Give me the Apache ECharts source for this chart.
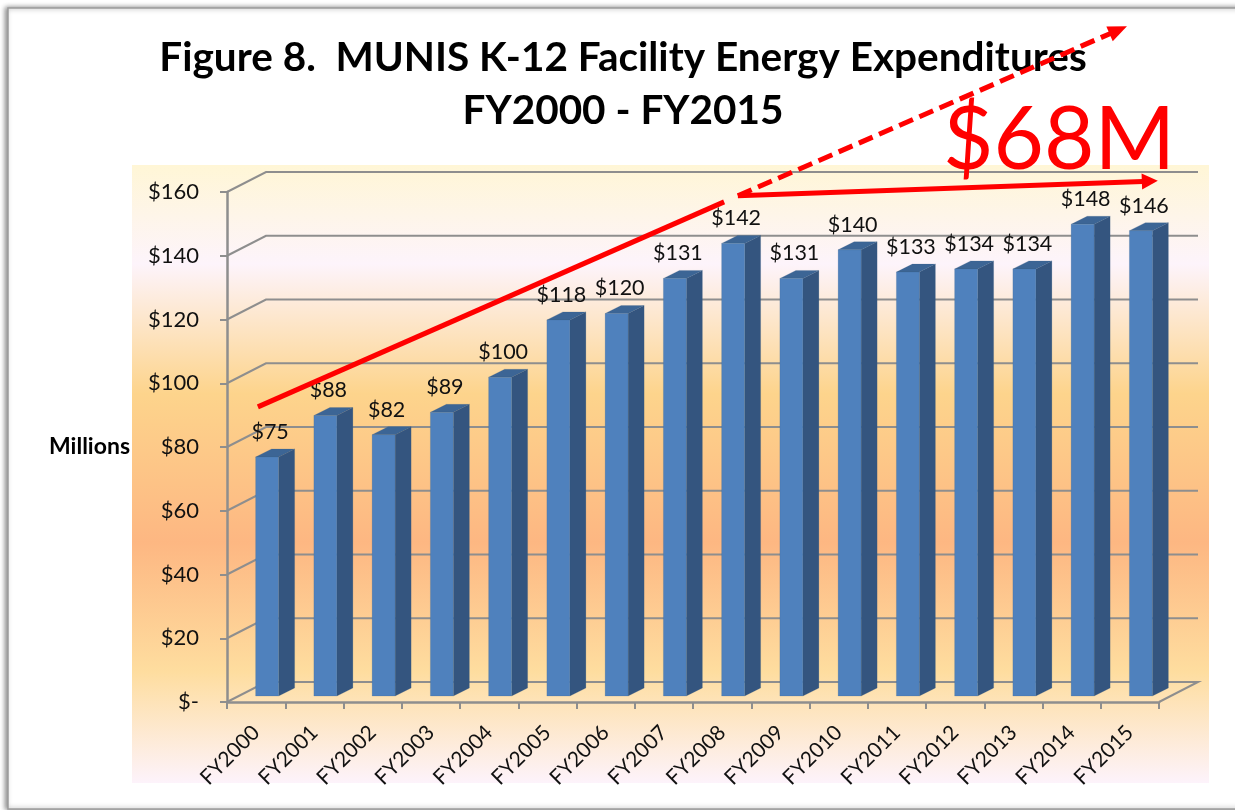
<!DOCTYPE html>
<html><head><meta charset="utf-8">
<style>html,body{margin:0;padding:0;background:#fff}#c{width:1235px;height:810px}</style>
<script src="https://cdn.jsdelivr.net/npm/echarts@6/dist/echarts.min.js"></script>
</head><body><div id="c"></div>
<script>
const categories = ['FY2000','FY2001','FY2002','FY2003','FY2004','FY2005','FY2006','FY2007','FY2008','FY2009','FY2010','FY2011','FY2012','FY2013','FY2014','FY2015'];
const expenditures = [75,88,82,89,100,118,120,131,142,131,140,133,134,134,148,146];
const yTicks = [0,20,40,60,80,100,120,140,160];
// Annotation arrows: [from position, from $M, to position, to $M, dashed]
const trendRise = [0.53,92.6,8.77,158.8,0];
const trendProjected = [8.77,158.8,15.45,212,1];
const trendActual = [8.77,158.8,15.98,163.5,0];
const calloutText = '$68M';
const titleText = 'Figure 8.  MUNIS K-12 Facility Energy Expenditures\nFY2000 - FY2015';
const yAxisName = 'Millions';

const FONT = 'Lato, "Open Sans", sans-serif';
const GRAY = '#8e8e8e';
const DX = 39, DY = -20;          // wall depth
const chart = echarts.init(document.getElementById('c'));

function renderWall(params, api) {
  const v = api.value(0);
  const a = api.coord([0, v]);
  const b = api.coord([16, v]);
  const style = {stroke: GRAY, lineWidth: 2, fill: null};
  return {type: 'polyline', shape: {points: [a, [a[0]+DX, a[1]+DY], [b[0]+DX, b[1]+DY], ...(v === 0 ? [b] : [])]}, style};
}
function renderBar(params, api) {
  const p = api.coord([api.value(0), api.value(1)]);
  const base = api.coord([api.value(0), 0]);
  const band = api.size([1, 0])[0];
  const w = band * 0.395, dx = 16, dy = -8, shift = -6;
  const x = p[0] - 0.5, top = p[1] + shift, bot = base[1] + shift;
  const edge = {stroke: 'rgba(60,90,130,0.35)', lineWidth: 0.5};
  return {type: 'group', children: [
    {type: 'polygon', shape: {points: [[x+w,top],[x+w+dx,top+dy],[x+w+dx,bot+dy],[x+w,bot]]}, style: {fill: '#34557f', ...edge}},
    {type: 'polygon', shape: {points: [[x,top],[x+dx,top+dy],[x+w+dx,top+dy],[x+w,top]]}, style: {fill: '#3c6595', ...edge}},
    {type: 'rect', shape: {x, y: top, width: w, height: bot-top}, style: {fill: '#4f81bd', ...edge}},
    {type: 'text', x: x + 14.5, y: top - 25, style: {text: '$' + api.value(1), font: '21.5px ' + FONT, fill: '#111', align: 'center', verticalAlign: 'middle'}}
  ]};
}
function renderArrow(params, api) {
  const a = api.coord([api.value(0), api.value(1)]);
  const b = api.coord([api.value(2), api.value(3)]);
  const dashed = api.value(4) === 1;
  const ang = Math.atan2(b[1]-a[1], b[0]-a[0]);
  const len = dashed ? 19 : 16, hw = 8;
  const children = [{type: 'line',
    shape: {x1: a[0], y1: a[1], x2: b[0]-Math.cos(ang)*(len-1), y2: b[1]-Math.sin(ang)*(len-1)},
    style: {stroke: '#ff0000', lineWidth: 5, lineDash: dashed ? [15, 7] : null}}];
  if (params.dataIndex !== 0) {
    const bx = b[0]-Math.cos(ang)*len, by = b[1]-Math.sin(ang)*len;
    const nx = -Math.sin(ang)*hw, ny = Math.cos(ang)*hw;
    children.push({type: 'polygon', shape: {points: [b, [bx+nx, by+ny], [bx-nx, by-ny]]}, style: {fill: '#ff0000'}});
  }
  return {type: 'group', children};
}

chart.setOption({
  animation: false,
  backgroundColor: '#ffffff',
  title: {text: titleText, left: 618, top: 26, textAlign: 'center', z: 1,
    textStyle: {fontFamily: FONT, fontWeight: 'bold', fontSize: 40.5, lineHeight: 53, color: '#000'}},
  grid: {left: 227, top: 192, width: 932, height: 510, containLabel: false},
  xAxis: [
    {type: 'category', data: categories, boundaryGap: true,
     axisLine: {lineStyle: {color: GRAY, width: 2.5}},
     axisTick: {show: true, length: 7, lineStyle: {color: GRAY, width: 2}},
     axisLabel: {rotate: 45, interval: 0, margin: 27, fontFamily: FONT, fontSize: 21, color: '#111'}, splitLine: {show: false}},
    {type: 'value', min: 0, max: 16, show: false, splitLine: {show: false}}
  ],
  yAxis: {type: 'value', min: 0, max: 160, interval: 20,
    name: yAxisName, nameLocation: 'middle', nameRotate: 0, nameGap: 97,
    nameTextStyle: {fontFamily: FONT, fontWeight: 'bold', fontSize: 23, color: '#000', padding: [4,0,0,0]},
    axisLine: {show: true, lineStyle: {color: GRAY, width: 2.5}},
    axisTick: {show: true, length: 7, lineStyle: {color: GRAY, width: 2}},
    axisLabel: {margin: 28, fontFamily: FONT, fontSize: 22, color: '#111', formatter: v => v === 0 ? '$-' : '$' + v},
    splitLine: {show: false}},
  graphic: [
    {type: 'rect', z: -2, shape: {x: 8, y: 8, width: 1240, height: 801}, silent: true,
     style: {fill: '#fff', stroke: '#9c9c9c', lineWidth: 1.5, shadowBlur: 5, shadowColor: 'rgba(0,0,0,0.45)', shadowOffsetX: -2}},
    {type: 'rect', z: -1, shape: {x: 132, y: 165, width: 1077, height: 618}, silent: true,
     style: {fill: new echarts.graphic.LinearGradient(0,0,0,1,[
       {offset: 0, color: '#fff6d6'}, {offset: 0.16, color: '#fdf4fb'}, {offset: 0.37, color: '#fdd48c'},
       {offset: 0.61, color: '#fdb782'}, {offset: 0.82, color: '#fedd9f'}, {offset: 1, color: '#fdf3fb'}])}},
    {type: 'text', z: 50, x: 943, y: 141, silent: true,
     style: {text: calloutText, font: '87px ' + FONT, fill: '#ff0000', verticalAlign: 'middle',
       shadowBlur: 3, shadowColor: 'rgba(0,0,0,0.3)', shadowOffsetX: 1, shadowOffsetY: 1}}
  ],
  series: [
    {type: 'custom', name: 'walls', xAxisIndex: 1, z: 2, silent: true, renderItem: renderWall, data: yTicks.map(v => [v]), encode: {y: 0}},
    {type: 'custom', name: 'Expenditures', xAxisIndex: 0, z: 3, silent: true, renderItem: renderBar, data: expenditures.map((v,i) => [i,v]), encode: {x: 0, y: 1}},
    {type: 'custom', name: 'Trend', xAxisIndex: 1, z: 4, silent: true, renderItem: renderArrow, data: [trendRise, trendProjected, trendActual], encode: {x: [0,2], y: [1,3]}}
  ]
});
</script></body></html>
